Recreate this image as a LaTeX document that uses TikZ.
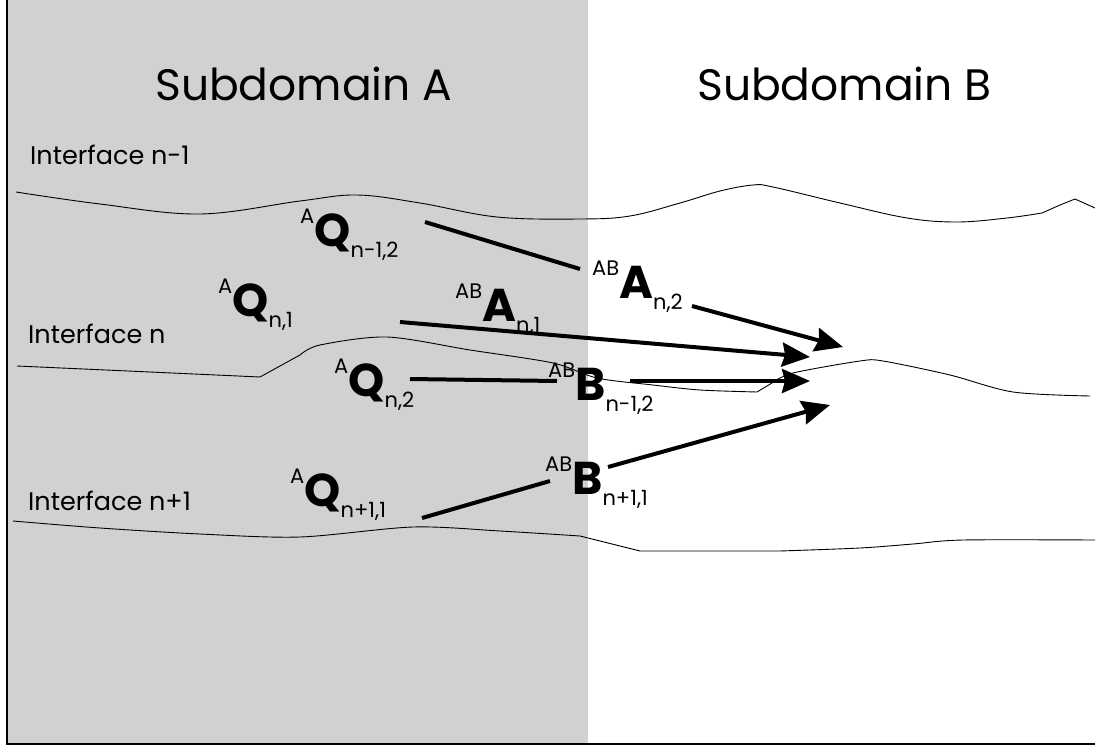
\documentclass[tikz,border=0pt]{standalone}
\usepackage{fontspec}
\setmainfont{Poppins}
\usetikzlibrary{arrows.meta}
\definecolor{domaingray}{HTML}{D2D1CF}
\newcommand{\termlbl}[3]{\raisebox{23pt}{\fontsize{21}{21}\selectfont #1}{\fontsize{46}{46}\selectfont\bfseries #2}\raisebox{-11pt}{\fontsize{21}{21}\selectfont #3}}

\begin{document}
\begin{tikzpicture}[x=1pt, y=-1pt,
    title/.style={anchor=base west, inner sep=0pt, font=\fontsize{44}{44}\selectfont},
    iface/.style={anchor=base west, inner sep=0pt, font=\fontsize{25.5}{26}\selectfont},
    term/.style={anchor=base west, inner sep=0pt},
    curve/.style={line width=0.9pt},
    link/.style={line width=4pt},
    flow/.style={link, -{Stealth[length=28pt, width=24pt, inset=3pt]}},
  ]
  \useasboundingbox (0,0) rectangle (1095,747);
  \fill[domaingray] (7,0) rectangle (588,744);
  \draw[line width=1.6pt] (7,0) -- (7,744) -- (1095,744);

  % interfaces
  \draw[curve] plot[smooth, tension=0.6] coordinates {(16,192) (100,204) (200,214)
    (300,201) (357,195) (420,203) (497,217) (580,219) (630,216) (680,203) (720,191)
    (753,185) (773,187) (840,203) (907,218) (957,222) (1007,218) (1042,213)}
    -- (1060,205) -- (1075,199) -- (1095,208);
  \draw[curve] plot[smooth] coordinates {(17,366) (150,372) (260,377)}
    -- plot[smooth] coordinates {(300,355) (320,345) (387,337) (470,350) (553,363)
    (597,378) (653,385) (700,390) (757,392)}
    -- plot[smooth] coordinates {(772,383) (793,373) (860,361) (883,361) (950,375)
    (1013,392) (1090,396)};
  \draw[curve] plot[smooth] coordinates {(13,521) (100,528) (200,534) (300,537)
    (413,527) (500,531) (580,536)} -- (640,551)
    -- plot[smooth] coordinates {(780,551) (860,548) (913,544) (963,540) (1095,540)};

  \node[title] (subA) at (155,100) {Subdomain A};
  \node[title] (subB) at (697,100) {Subdomain B};
  \node[iface] (ifprev) at (30,164) {Interface n-1};
  \node[iface] (ifcur) at (28,343) {Interface n};
  \node[iface] (ifnext) at (28,510) {Interface n+1};

  \node[term] (qprev) at (300,246) {\termlbl{A}{Q}{n-1,2}};
  \node[term] (qone) at (218,316) {\termlbl{A}{Q}{n,1}};
  \node[term] (aone) at (455,321) {\termlbl{AB}{A}{n,1}};
  \node[term] (atwo) at (592,298) {\termlbl{AB}{A}{n,2}};
  \node[term] (qtwo) at (334,396) {\termlbl{A}{Q}{n,2}};
  \node[term] (bprev) at (548,400) {\termlbl{AB}{B}{n-1,2}};
  \node[term] (qnext) at (290,506) {\termlbl{A}{Q}{n+1,1}};
  \node[term] (bnext) at (545,494) {\termlbl{AB}{B}{n+1,1}};

  \coordinate (qprevout) at (425,222);
  \coordinate (atwoin) at (580,269);
  \coordinate (atwoout) at (692,306);
  \coordinate (qoneout) at (400,322);
  \coordinate (qtwoout) at (410,379);
  \coordinate (bprevin) at (557,381);
  \coordinate (bprevout) at (630,381);
  \coordinate (qnextout) at (422,518);
  \coordinate (bnextin) at (550,481);
  \coordinate (bnextout) at (608,467);
  \coordinate (tipA) at (843,347);
  \coordinate (tipB) at (810,357);
  \coordinate (tipC) at (810,381);
  \coordinate (tipD) at (830,405);

  \draw[link] (qprevout) -- (atwoin);
  \draw[flow] (atwoout) -- (tipA);
  \draw[flow] (qoneout) -- (tipB);
  \draw[link] (qtwoout) -- (bprevin);
  \draw[flow] (bprevout) -- (tipC);
  \draw[link] (qnextout) -- (bnextin);
  \draw[flow] (bnextout) -- (tipD);
\end{tikzpicture}
\end{document}
